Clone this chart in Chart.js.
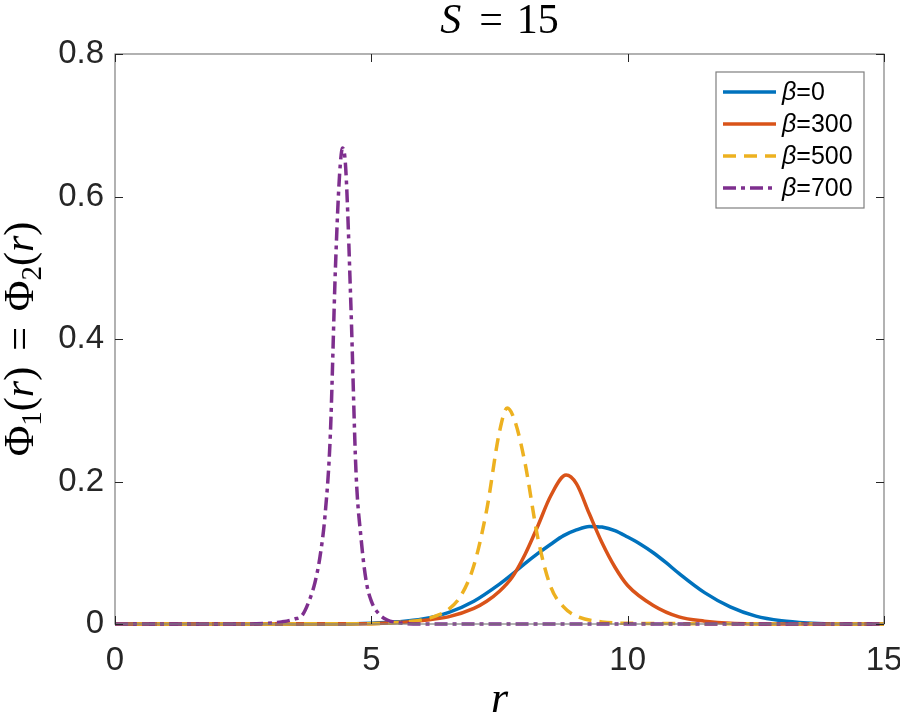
<!DOCTYPE html>
<html>
<head>
<meta charset="utf-8">
<script src="https://cdn.jsdelivr.net/npm/chart.js@4.4.0/dist/chart.umd.min.js"></script>
<style>
  html, body { margin: 0; padding: 0; background: #fff; }
</style>
</head>
<body>
<canvas id="myChart" width="900" height="718"></canvas>
<script>
// values
const seriesLabels = ['0', '300', '500', '700'];
const xTicks = [0, 5, 10, 15];
const yTicks = [0, 0.2, 0.4, 0.6, 0.8];

const rBeta0 = [0, 4.5, 5, 5.5, 6, 6.5, 7, 7.5, 7.75, 8, 8.25, 8.5, 8.75, 9, 9.25, 9.5, 9.75, 10, 10.25, 10.5, 10.75, 11, 11.5, 12, 12.5, 13, 13.5, 14, 15];
const phiBeta0 = [0, 0, 0.001, 0.003, 0.007, 0.016, 0.032, 0.056, 0.070, 0.085, 0.099, 0.112, 0.124, 0.132, 0.137, 0.136, 0.131, 0.122, 0.112, 0.100, 0.086, 0.071, 0.044, 0.024, 0.011, 0.0045, 0.0015, 0.0004, 0];

const rBeta300 = [0, 5, 5.5, 6, 6.5, 7, 7.25, 7.5, 7.75, 8, 8.25, 8.5, 8.8, 9, 9.25, 9.5, 9.75, 10, 10.5, 11, 11.5, 12, 13, 15];
const phiBeta300 = [0, 0.0005, 0.002, 0.005, 0.010, 0.022, 0.032, 0.046, 0.066, 0.098, 0.138, 0.180, 0.209, 0.197, 0.155, 0.114, 0.080, 0.054, 0.026, 0.010, 0.004, 0.001, 0, 0];

const rBeta500 = [0, 5, 5.5, 6, 6.25, 6.5, 6.75, 7, 7.25, 7.5, 7.65, 7.8, 8, 8.25, 8.5, 8.75, 9, 9.5, 10, 15];
const phiBeta500 = [0, 0.0005, 0.002, 0.006, 0.011, 0.020, 0.040, 0.082, 0.160, 0.270, 0.303, 0.285, 0.225, 0.120, 0.052, 0.024, 0.011, 0.003, 0.001, 0];

const rBeta700 = [0, 2.5, 3, 3.25, 3.5, 3.65, 3.8, 3.9, 4.0, 4.1, 4.2, 4.3, 4.38, 4.44, 4.5, 4.6, 4.7, 4.8, 4.9, 5.0, 5.15, 5.3, 5.5, 6, 15];
const phiBeta700 = [0, 0, 0.001, 0.003, 0.007, 0.012, 0.035, 0.058, 0.095, 0.155, 0.265, 0.500, 0.630, 0.668, 0.640, 0.450, 0.215, 0.120, 0.060, 0.032, 0.014, 0.006, 0.002, 0, 0];

const colorList = ['#0072BD', '#D95319', '#EDB120', '#7E2F8E'];
const dashList = [[], [], [13, 8], [13, 5, 4, 5]];

const toPoints = (xs, ys) => xs.map((x, i) => ({ x: x, y: ys[i] }));
const allR = [rBeta0, rBeta300, rBeta500, rBeta700];
const allPhi = [phiBeta0, phiBeta300, phiBeta500, phiBeta700];

const datasets = seriesLabels.map((lab, i) => ({
    label: 'β=' + lab,
    data: toPoints(allR[i], allPhi[i]),
    borderColor: colorList[i],
    borderWidth: 3.5,
    borderDash: dashList[i],
    pointRadius: 0,
    fill: false,
    clip: 4,
    cubicInterpolationMode: 'monotone',
    order: 3 - i
}));

// draw a row of text pieces with different fonts, centred at x
function drawRuns(ctx, runs, cx, baseY) {
    let total = 0;
    runs.forEach(r => {
        if (r.gap) { total += r.gap; return; }
        ctx.font = r.font;
        r.w = ctx.measureText(r.text).width;
        total += r.w;
    });
    let x = cx - total / 2;
    ctx.textAlign = 'left';
    ctx.textBaseline = 'alphabetic';
    runs.forEach(r => {
        if (r.gap) { x += r.gap; return; }
        ctx.font = r.font;
        ctx.fillText(r.text, x, baseY + (r.dy || 0));
        x += r.w;
    });
}

const serif = '"Liberation Serif", "DejaVu Serif", serif';
const sans = '"Liberation Sans", Arial, sans-serif';

const matlabFrame = {
    id: 'matlabFrame',
    afterDraw(chart) {
        const ctx = chart.ctx;
        const a = chart.chartArea;
        const xs = chart.scales.x, ys = chart.scales.y;
        ctx.save();
        // box
        ctx.strokeStyle = '#7f7f7f';
        ctx.lineWidth = 1.2;
        ctx.setLineDash([]);
        ctx.strokeRect(a.left, a.top, a.right - a.left, a.bottom - a.top);
        // inward ticks on all sides
        ctx.strokeStyle = '#262626';
        ctx.lineWidth = 1;
        const tl = 8;
        ctx.beginPath();
        xTicks.forEach(v => {
            const px = Math.round(xs.getPixelForValue(v)) + 0.5;
            ctx.moveTo(px, a.bottom); ctx.lineTo(px, a.bottom - tl);
            ctx.moveTo(px, a.top); ctx.lineTo(px, a.top + tl);
        });
        yTicks.forEach(v => {
            const py = Math.round(ys.getPixelForValue(v)) + 0.5;
            ctx.moveTo(a.left, py); ctx.lineTo(a.left + tl, py);
            ctx.moveTo(a.right, py); ctx.lineTo(a.right - tl, py);
        });
        ctx.stroke();

        // title
        ctx.fillStyle = '#000';
        drawRuns(ctx, [
            { text: 'S', font: 'italic 42px ' + serif },
            { gap: 18 },
            { text: '=', font: '42px ' + serif },
            { gap: 14 },
            { text: '15', font: '42px ' + serif }
        ], (a.left + a.right) / 2, 33);

        // x label
        drawRuns(ctx, [{ text: 'r', font: 'italic 44px ' + serif }], (a.left + a.right) / 2, 712);

        // y label, rotated
        ctx.save();
        ctx.translate(33, (a.top + a.bottom) / 2);
        ctx.rotate(-Math.PI / 2);
        const f = '42px ' + serif, fi = 'italic 42px ' + serif, fs = '29px ' + serif;
        drawRuns(ctx, [
            { text: 'Φ', font: f }, { text: '1', font: fs, dy: 8 },
            { text: '(', font: f }, { text: 'r', font: fi }, { text: ')', font: f },
            { gap: 16 }, { text: '=', font: f }, { gap: 16 },
            { text: 'Φ', font: f }, { text: '2', font: fs, dy: 8 },
            { text: '(', font: f }, { text: 'r', font: fi }, { text: ')', font: f }
        ], 0, 0);
        ctx.restore();

        // legend inside the axes, top right
        const bw = 148, bh = 136;
        const bx = a.right - 20 - bw, by = a.top + 18;
        ctx.fillStyle = '#fff';
        ctx.fillRect(bx, by, bw, bh);
        ctx.strokeStyle = '#7f7f7f';
        ctx.lineWidth = 1.2;
        ctx.strokeRect(bx, by, bw, bh);
        chart.data.datasets.forEach((ds, i) => {
            const yy = by + 20 + i * 32;
            ctx.strokeStyle = ds.borderColor;
            ctx.lineWidth = 3.5;
            ctx.setLineDash(ds.borderDash);
            ctx.beginPath();
            ctx.moveTo(bx + 7, yy);
            ctx.lineTo(bx + 60, yy);
            ctx.stroke();
            ctx.setLineDash([]);
            ctx.fillStyle = '#000';
            ctx.textAlign = 'left';
            ctx.textBaseline = 'middle';
            ctx.font = 'italic 25px ' + sans;
            const bwid = ctx.measureText('β').width;
            ctx.fillText('β', bx + 66, yy + 1);
            ctx.font = '25px ' + sans;
            ctx.fillText(ds.label.slice(1), bx + 66 + bwid, yy + 1);
        });
        ctx.restore();
    }
};

new Chart(document.getElementById('myChart'), {
    type: 'line',
    data: { datasets: datasets },
    options: {
        responsive: false,
        animation: false,
        devicePixelRatio: 1,
        layout: { padding: { top: 54, right: 16, left: 0, bottom: 0 } },
        plugins: {
            legend: { display: false },
            tooltip: { enabled: false },
            title: { display: false }
        },
        scales: {
            x: {
                type: 'linear',
                min: 0,
                max: 15,
                grid: { display: false, drawTicks: false },
                border: { display: false },
                afterBuildTicks: s => { s.ticks = xTicks.map(v => ({ value: v })); },
                afterFit: s => { s.height = 94; s.paddingLeft = 0; s.paddingRight = 0; },
                ticks: {
                    padding: 17,
                    maxRotation: 0,
                    color: '#262626',
                    font: { family: sans, size: 33 }
                }
            },
            y: {
                type: 'linear',
                min: 0,
                max: 0.8,
                grid: { display: false, drawTicks: false },
                border: { display: false },
                afterBuildTicks: s => { s.ticks = yTicks.map(v => ({ value: v })); },
                afterFit: s => { s.width = 115; s.paddingTop = 0; s.paddingBottom = 0; },
                ticks: {
                    padding: 11,
                    color: '#262626',
                    font: { family: sans, size: 33 },
                    callback: v => String(Math.round(v * 10) / 10)
                }
            }
        }
    },
    plugins: [matlabFrame]
});
</script>
</body>
</html>
